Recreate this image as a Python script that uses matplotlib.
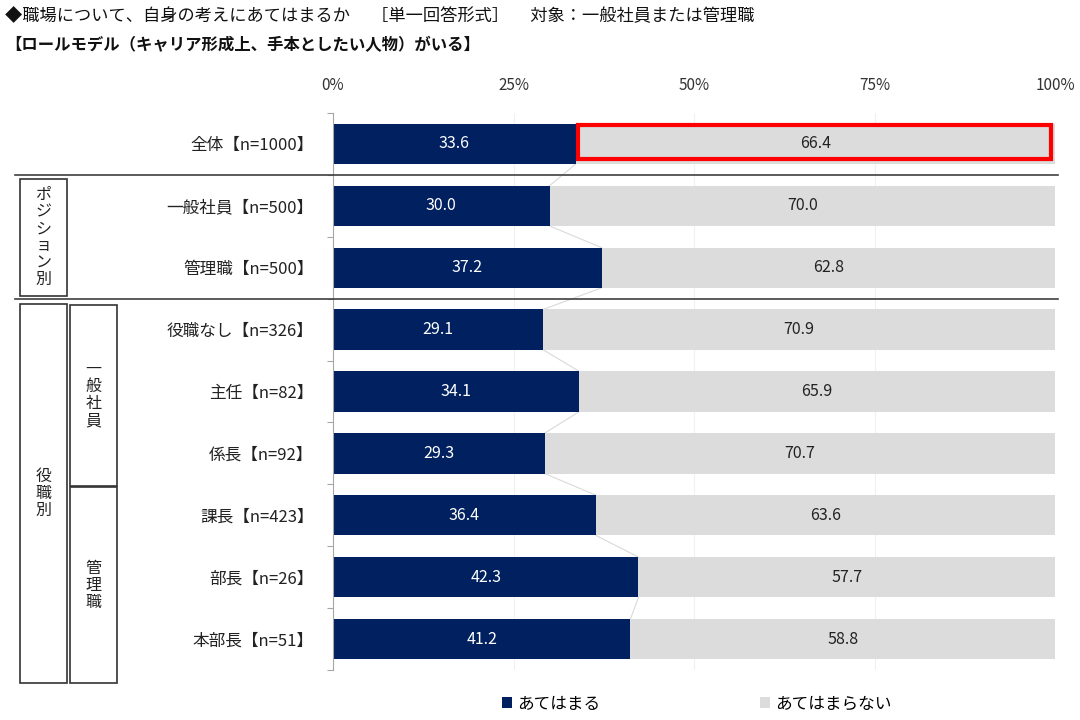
import matplotlib.pyplot as plt
import matplotlib.transforms as mtransforms
from matplotlib.patches import Rectangle

plt.rcParams['font.family'] = ['Noto Sans CJK JP', 'DejaVu Sans']

# ----------------------------------------------------------------
#  Data
# ----------------------------------------------------------------
categories = ['全体【n=1000】', '一般社員【n=500】', '管理職【n=500】',
              '役職なし【n=326】', '主任【n=82】', '係長【n=92】',
              '課長【n=423】', '部長【n=26】', '本部長【n=51】']
yes_vals = [33.6, 30.0, 37.2, 29.1, 34.1, 29.3, 36.4, 42.3, 41.2]
no_vals = [66.4, 70.0, 62.8, 70.9, 65.9, 70.7, 63.6, 57.7, 58.8]
series_names = ['あてはまる', 'あてはまらない']
x_ticks = [0, 25, 50, 75, 100]
x_tick_labels = ['0%', '25%', '50%', '75%', '100%']

title1 = '◆職場について、自身の考えにあてはまるか　 ［単一回答形式］　 対象：一般社員または管理職'
title2 = '【ロールモデル（キャリア形成上、手本としたい人物）がいる】'

NAVY = '#002060'
GRAY = '#DCDCDC'
BAR_H = 0.65

fig = plt.figure(figsize=(10.8, 7.2), dpi=100)
ax = fig.add_axes([333 / 1080, 1 - 670 / 720, 722 / 1080, 557 / 720])

ypos = list(range(len(categories)))
b1 = ax.barh(ypos, yes_vals, height=BAR_H, color=NAVY, label=series_names[0], zorder=3)
b2 = ax.barh(ypos, no_vals, left=yes_vals, height=BAR_H, color=GRAY,
             label=series_names[1], zorder=3)
ax.bar_label(b1, labels=[f'{v:.1f}' for v in yes_vals], label_type='center',
             color='white', fontsize=11.5)
ax.bar_label(b2, labels=[f'{v:.1f}' for v in no_vals], label_type='center',
             color='#222222', fontsize=11.5)

# series lines between adjacent bars
for i in range(len(yes_vals) - 1):
    ax.plot([yes_vals[i], yes_vals[i + 1]], [i + BAR_H / 2, i + 1 - BAR_H / 2],
            color='#D9D9D9', lw=0.8, zorder=2)

ax.set_xlim(0, 100)
ax.set_ylim(len(categories) - 0.5, -0.5)
ax.set_xticks(x_ticks)
ax.set_xticklabels(x_tick_labels, fontsize=11, color='#333333')
ax.xaxis.tick_top()
ax.tick_params(axis='x', length=0, pad=14)
ax.set_yticks(ypos)
ax.set_yticklabels(categories, fontsize=12, color='#222222')
ax.tick_params(axis='y', which='major', length=0, pad=14)
ax.set_yticks([i + 0.5 for i in range(-1, len(categories))], minor=True)
ax.tick_params(axis='y', which='minor', length=4, color='#A6A6A6', width=0.8)
ax.grid(axis='x', color='#F0F0F0', lw=0.8, zorder=0)
for s in ['top', 'right', 'bottom']:
    ax.spines[s].set_visible(False)
ax.spines['left'].set_color('#A6A6A6')
ax.spines['left'].set_linewidth(0.8)
ax.spines['left'].set_zorder(4)

# highlight box on the top row
ax.add_patch(Rectangle((yes_vals[0] + 0.3, -0.30), no_vals[0] - 0.9, 0.55,
                       fill=False, edgecolor='#FF0000', lw=3, zorder=5))

# group separators and boxes
blend = mtransforms.blended_transform_factory(fig.transFigure, ax.transData)
for yb in [0.5, 2.5]:
    ax.plot([15 / 1080, 1058 / 1080], [yb, yb], transform=blend, color='#404040',
            lw=1.2, clip_on=False, zorder=6)

boxes = [
    (20, 67, 0.56, 2.46, 'ポジション別'),
    (20, 67, 2.59, 8.71, '役職別'),
    (70, 117, 2.60, 5.52, '一般社員'),
    (70, 117, 5.55, 8.71, '管理職'),
]
for x0, x1, y0, y1, txt in boxes:
    ax.add_patch(Rectangle((x0 / 1080, y0), (x1 - x0) / 1080, y1 - y0,
                           transform=blend, fill=False, edgecolor='#333333',
                           lw=1.2, clip_on=False))
    ax.text((x0 + x1) / 2 / 1080, (y0 + y1) / 2, '\n'.join(txt), transform=blend,
            ha='center', va='center', fontsize=11.5, linespacing=1.0,
            color='#222222', clip_on=False)

fig.text(5 / 1080, 1 - 16 / 720, title1, fontsize=12.4, va='center', ha='left',
         color='#111111')
fig.text(5 / 1080, 1 - 45 / 720, title2, fontsize=11.8, va='center', ha='left',
         color='#111111', fontweight='bold')

fig.legend(loc='center', bbox_to_anchor=(0.645, 0.022), ncol=2, frameon=False,
           fontsize=12, handlelength=0.6, handleheight=0.6, handletextpad=0.3,
           columnspacing=9.6)

fig.savefig('out.png', dpi=100)
